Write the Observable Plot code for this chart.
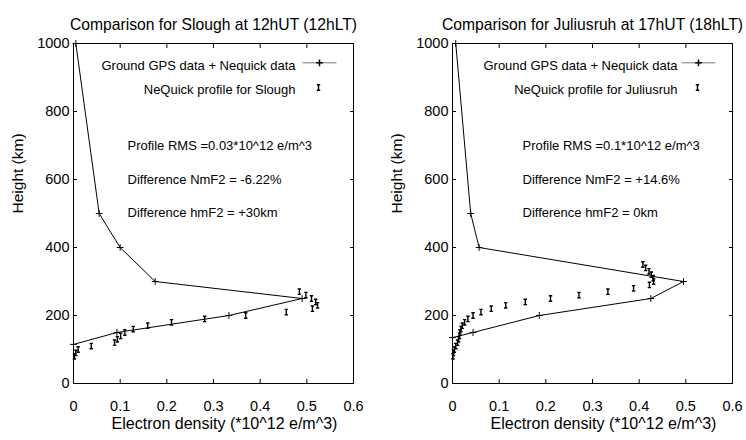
<!DOCTYPE html>
<html>
<head>
<meta charset="utf-8">
<script src="https://cdn.jsdelivr.net/npm/d3@7"></script>
<script src="https://cdn.jsdelivr.net/npm/@observablehq/plot@0.6"></script>
<style>
  body { margin: 0; background: white; }
  #wrap { display: flex; width: 746px; height: 440px; }
  svg { overflow: visible; }
</style>
</head>
<body>
<div id="wrap"></div>
<script>
// ---- Data ----
const xTicks = [0, 0.1, 0.2, 0.3, 0.4, 0.5, 0.6];
const yTicks = [0, 200, 400, 600, 800, 1000];

// Slough (left)
const sloughTitle = "Comparison for Slough at 12hUT (12hLT)";
const sloughGpsHeight  = [1000, 500, 400, 300, 250, 200, 150, 115];
const sloughGpsDensity = [0.005, 0.055, 0.1, 0.175, 0.49, 0.333, 0.093, 0.0];
const sloughNeqHeight  = [80, 90, 100, 110, 120, 130, 140, 150, 160, 170, 180, 190, 200, 210, 220, 230, 240, 250, 260, 270];
const sloughNeqDensity = [0.002, 0.005, 0.01, 0.038, 0.088, 0.094, 0.101, 0.11, 0.128, 0.159, 0.21, 0.281, 0.369, 0.456, 0.512, 0.523, 0.519, 0.51, 0.498, 0.484];
const sloughLegend = ["Ground GPS data + Nequick data", "NeQuick profile for Slough"];
const sloughNotes = ["Profile RMS =0.03*10^12 e/m^3", "Difference NmF2 = -6.22%", "Difference hmF2 = +30km"];

// Juliusruh (right)
const juliTitle = "Comparison for Juliusruh at 17hUT (18hLT)";
const juliGpsHeight  = [1000, 500, 400, 300, 250, 200, 150, 135];
const juliGpsDensity = [0.007, 0.039, 0.057, 0.495, 0.425, 0.186, 0.044, 0.0];
const juliNeqHeight  = [80, 90, 100, 110, 120, 130, 140, 150, 160, 170, 180, 190, 200, 210, 220, 230, 240, 250, 260, 270, 280, 290, 300, 310, 320, 330, 340, 350];
const juliNeqDensity = [0.001, 0.002, 0.004, 0.007, 0.011, 0.013, 0.015, 0.016, 0.018, 0.021, 0.026, 0.033, 0.044, 0.061, 0.083, 0.114, 0.156, 0.21, 0.271, 0.333, 0.388, 0.422, 0.431, 0.43, 0.426, 0.421, 0.414, 0.408];
const juliLegend = ["Ground GPS data + Nequick data", "NeQuick profile for Juliusruh"];
const juliNotes = ["Profile RMS =0.1*10^12 e/m^3", "Difference NmF2 = +14.6%", "Difference hmF2 = 0km"];

const xLabel = "Electron density (*10^12 e/m^3)";
const yLabel = "Height (km)";

// ---- Symbols ----
const iBar = {
  draw(ctx) {
    const w = 1.7, h = 2.7;
    ctx.moveTo(-w, -h); ctx.lineTo(w, -h);
    ctx.moveTo(0, -h); ctx.lineTo(0, h);
    ctx.moveTo(-w, h); ctx.lineTo(w, h);
  }
};
const hSeg = { draw(ctx) { ctx.moveTo(-17, 0); ctx.lineTo(17, 0); } };

const FONT = "'Liberation Sans', Arial, Helvetica, sans-serif";
const fmt = d => String(d);
const noteDy = [97, 131.5, 164];

function panel(opts) {
  const gps = opts.gpsH.map((h, i) => ({h, d: opts.gpsD[i]}));
  const neq = opts.neqH.map((h, i) => ({h, d: opts.neqD[i]}));
  return Plot.plot({
    width: 373, height: 440,
    marginLeft: opts.ml, marginRight: opts.mr, marginTop: 43, marginBottom: 57,
    x: {domain: [0, 0.6]},
    y: {domain: [0, 1000]},
    style: {fontFamily: FONT, fontSize: "14.5px", color: "black", background: "white"},
    marks: [
      Plot.frame({stroke: "black"}),
      Plot.axisX({anchor: "bottom", ticks: xTicks, tickFormat: fmt, tickSize: -4, tickPadding: 21, label: null, fontSize: 14.5}),
      Plot.axisX({anchor: "top", ticks: xTicks, tickSize: -4, tickFormat: () => "", label: null}),
      Plot.axisY({anchor: "left", ticks: yTicks, tickFormat: fmt, tickSize: -4, tickPadding: 8, label: null, fontSize: 14.5}),
      Plot.axisY({anchor: "right", ticks: yTicks, tickSize: -4, tickFormat: () => "", label: null}),
      Plot.line(gps, {x: "d", y: "h", stroke: "black", strokeWidth: 1}),
      Plot.dot(gps, {x: "d", y: "h", symbol: "plus", r: 2.3, stroke: "black", strokeWidth: 1}),
      Plot.dot(neq, {x: "d", y: "h", symbol: iBar, fill: "none", stroke: "black", strokeWidth: 1.4}),
      // title & axis labels
      Plot.text([opts.title], {frameAnchor: "top", dy: -24.7, fontSize: 15.7, fill: "black"}),
      Plot.text([xLabel], {frameAnchor: "bottom", dy: 45.5, dx: 11, fontSize: 16, fill: "black"}),
      Plot.text([yLabel], {frameAnchor: "left", dx: -55.5, rotate: -90, fontSize: 15.5, fill: "black"}),
      // legend
      Plot.text([opts.legend[0]], {frameAnchor: "top-right", dx: opts.lgx, dy: 17, textAnchor: "end", fontSize: 13, fill: "black"}),
      Plot.dot([0], {frameAnchor: "top-right", dx: -34, dy: 19.3, symbol: hSeg, fill: "none", stroke: "#777", strokeWidth: 1}),
      Plot.dot([0], {frameAnchor: "top-right", dx: -34, dy: 19.3, symbol: "plus", r: 2.3, stroke: "black"}),
      Plot.text([opts.legend[1]], {frameAnchor: "top-right", dx: opts.lgx, dy: 41.7, textAnchor: "end", fontSize: 13, fill: "black"}),
      Plot.dot([0], {frameAnchor: "top-right", dx: -35, dy: 44, symbol: iBar, fill: "none", stroke: "black", strokeWidth: 1.4}),
      // annotations
      ...opts.notes.map((t, i) => Plot.text([t], {frameAnchor: "top-left", dx: opts.ndx, dy: noteDy[i], textAnchor: "start", fontSize: 13, fill: "black"}))
    ]
  });
}

const wrap = document.getElementById("wrap");
wrap.append(panel({
  title: sloughTitle, gpsH: sloughGpsHeight, gpsD: sloughGpsDensity,
  neqH: sloughNeqHeight, neqD: sloughNeqDensity, legend: sloughLegend, notes: sloughNotes,
  ml: 73, mr: 20, lgx: -58, ndx: 54
}));
wrap.append(panel({
  title: juliTitle, gpsH: juliGpsHeight, gpsD: juliGpsDensity,
  neqH: juliNeqHeight, neqD: juliNeqDensity, legend: juliLegend, notes: juliNotes,
  ml: 79, mr: 14, lgx: -55, ndx: 70
}));
</script>
</body>
</html>
